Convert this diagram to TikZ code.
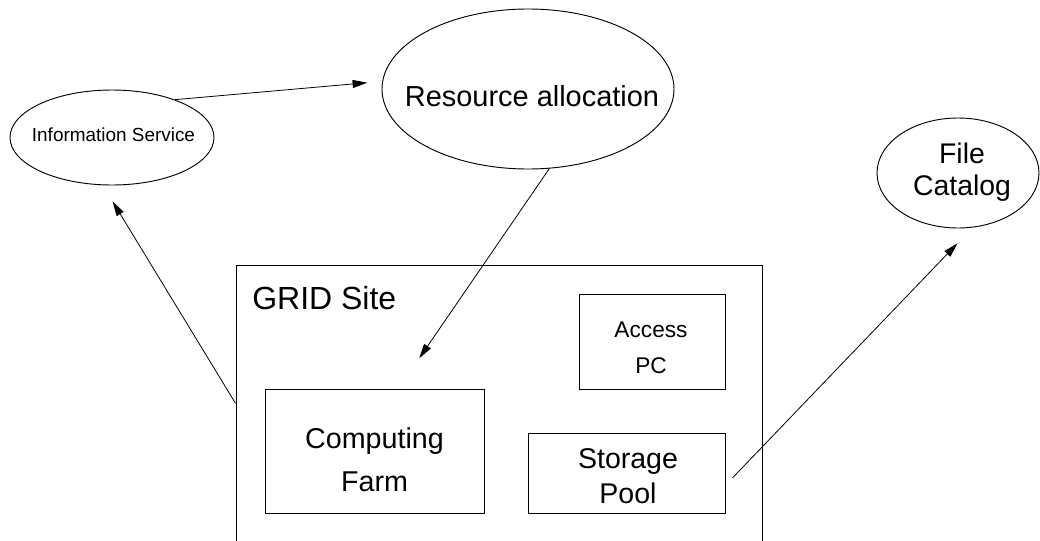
\documentclass[tikz,border=0pt]{standalone}
\usepackage{fontspec}
\setmainfont{Liberation Sans}
\usetikzlibrary{arrows.meta,shapes.geometric}
\begin{document}
\begin{tikzpicture}[x=0.75pt,y=-0.75pt,
  oval/.style={draw,ellipse,line width=0.7pt,inner sep=0pt},
  box/.style={draw,rectangle,line width=0.75pt,inner sep=0pt},
  txt/.style={inner sep=0pt,align=center},
  conn/.style={line width=0.6pt,-{Triangle[length=11pt,width=6pt]}}]
\useasboundingbox (0,0) rectangle (1040,540);
% ovals
\node[oval,minimum width=153pt,minimum height=71.25pt] (info) at (112,137.5) {};
\node[oval,minimum width=219pt,minimum height=120pt] (res) at (528,89) {};
\node[oval,minimum width=121.5pt,minimum height=82.5pt] (file) at (958,173) {};
\node[txt,font=\fontsize{14.2pt}{17pt}\selectfont] (infotxt) at (113.5,134.5) {Information Service};
\node[txt,font=\fontsize{21.7pt}{26pt}\selectfont] (restxt) at (532,96.5) {Resource allocation};
\node[txt,font=\fontsize{21.3pt}{24pt}\selectfont] (filetxt) at (962,172) {File\\Catalog};
% site
\node[box,minimum width=394.5pt,minimum height=221.25pt] (grid) at (499,412.5) {};
\node[txt,anchor=base west,font=\fontsize{24pt}{28pt}\selectfont] (gridtxt) at (252,309) {GRID Site};
\node[box,minimum width=109.5pt,minimum height=71.25pt] (access) at (652,341.5) {};
\node[txt,font=\fontsize{17pt}{27pt}\selectfont] (accesstxt) at (651,348) {Access\\PC};
\node[box,minimum width=164.25pt,minimum height=93pt] (farm) at (374.5,451) {};
\node[txt,font=\fontsize{21.5pt}{32.25pt}\selectfont] (farmtxt) at (374.5,459.5) {Computing\\Farm};
\node[box,minimum width=147.75pt,minimum height=60pt] (store) at (626.5,473) {};
\node[txt,font=\fontsize{21.4pt}{26.25pt}\selectfont] (storetxt) at (628,476) {Storage\\Pool};
% connectors
\draw[conn,shorten >=11.25pt] (info.31.5) -- (res.177);
\draw[conn,shorten >=27.5pt] (res.285) -- (farm.69);
\draw[conn,shorten >=14.2pt] (grid.178) -- (info.259);
\draw[conn,shorten <=7.5pt,shorten >=16.4pt] (store.353.5) -- (file.285.5);
\end{tikzpicture}
\end{document}
